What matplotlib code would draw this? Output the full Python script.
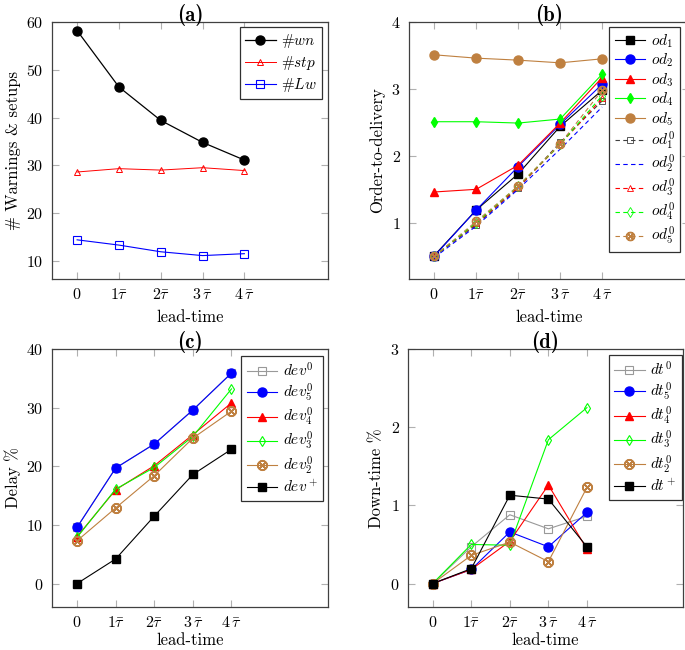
import matplotlib
matplotlib.use("Agg")
import matplotlib.pyplot as plt

plt.rcParams['font.family'] = ['cmr10', 'DejaVu Serif']
plt.rcParams['mathtext.fontset'] = 'cm'
plt.rcParams['axes.formatter.use_mathtext'] = True
plt.rcParams['axes.unicode_minus'] = False

# lead-time positions and labels
lead = [0, 1, 2, 3, 4]
lead_labels = ['$0$', r'$1\bar{\tau}$', r'$2\bar{\tau}$', r'$3\,\bar{\tau}$', r'$4\,\bar{\tau}$']

# (a) warnings & setups
wn = [58.2, 46.4, 39.4, 34.8, 31.1]
stp = [28.6, 29.3, 29.0, 29.5, 28.9]
lw = [14.4, 13.3, 11.9, 11.1, 11.5]

# (b) order-to-delivery
od1 = [0.51, 1.19, 1.73, 2.44, 2.98]
od2 = [0.50, 1.19, 1.84, 2.47, 3.07]
od3 = [1.46, 1.50, 1.86, 2.49, 3.17]
od4 = [2.51, 2.51, 2.49, 2.55, 3.22]
od5 = [3.51, 3.46, 3.43, 3.39, 3.45]
od1_0 = [0.50, 0.97, 1.52, 2.20, 2.82]
od2_0 = [0.48, 0.95, 1.50, 2.10, 2.73]
od3_0 = [0.50, 0.99, 1.53, 2.17, 2.86]
od4_0 = [0.50, 1.00, 1.55, 2.17, 2.90]
od5_0 = [0.50, 1.02, 1.55, 2.18, 2.98]

# (c) delay %
dev0 = [9.6, 19.7, 23.8, 29.6, 35.9]
dev5 = [9.6, 19.7, 23.8, 29.6, 35.9]
dev4 = [8.0, 16.0, 20.1, 25.4, 30.8]
dev3 = [7.9, 16.1, 19.8, 25.1, 33.2]
dev2 = [7.3, 12.9, 18.4, 24.8, 29.4]
devp = [0.0, 4.2, 11.5, 18.6, 22.9]

# (d) down-time %
dt0 = [0.0, 0.47, 0.88, 0.70, 0.86]
dt5 = [0.0, 0.18, 0.66, 0.47, 0.91]
dt4 = [0.0, 0.18, 0.54, 1.26, 0.44]
dt3 = [0.0, 0.50, 0.49, 1.84, 2.25]
dt2 = [0.0, 0.36, 0.53, 0.28, 1.23]
dtp = [0.0, 0.19, 1.13, 1.08, 0.47]

BROWN = (0.75, 0.5, 0.25)
GRAY = (0.6, 0.6, 0.6)
OTIMES = r'$\otimes$'

W, H = 685, 650
fig = plt.figure(figsize=(W / 100, H / 100), dpi=100)


def box(l, t, r, b):
    return [l / W, 1 - b / H, (r - l) / W, (b - t) / H]


def style(ax, title, ylabel, xpad=5):
    ax.set_xticks(lead)
    ax.set_xticklabels(lead_labels, fontsize=11.5)
    ax.tick_params(direction='in', length=5, width=0.8, color='#b0b0b0',
                   top=True, right=True, labelsize=11.5, pad=6)
    for s in ax.spines.values():
        s.set_linewidth(0.9)
        s.set_color('#404040')
    ax.set_title(title, family='cmb10', fontsize=15, pad=1)
    ax.set_xlabel('lead-time', fontsize=12, labelpad=xpad)
    ax.set_ylabel(ylabel, fontsize=12, labelpad=4)


def legend(ax, r, t, spacing):
    leg = ax.legend(loc='upper right', bbox_to_anchor=(r / W, 1 - t / H),
                    bbox_transform=fig.transFigure, borderaxespad=0,
                    fancybox=False, framealpha=1, edgecolor='#303030',
                    fontsize=11, handlelength=2.0, handletextpad=0.35,
                    borderpad=0.35, labelspacing=spacing)
    leg.get_frame().set_linewidth(0.9)
    return leg


# ---- (a)
ax = fig.add_axes(box(52, 22, 328, 279))
ax.plot(lead, wn, '-o', color='black', lw=0.9, ms=6.5, label='#$wn$')
ax.plot(lead, stp, '-^', color='red', lw=0.7, ms=5, mfc='none', mew=0.7, label='#$stp$')
ax.plot(lead, lw, '-s', color='blue', lw=0.8, ms=5.5, mfc='none', mew=0.8, label='#$Lw$')
ax.set_xlim(-0.6, 6.0)
ax.set_ylim(6.2, 60)
ax.set_yticks([10, 20, 30, 40, 50, 60])
ax.set_yticklabels(['$%d$' % v for v in [10, 20, 30, 40, 50, 60]])
style(ax, '(a)', '# Warnings & setups')
legend(ax, 322, 27, 0.25)

# ---- (b)
ax = fig.add_axes(box(409, 22, 689, 279))
ax.plot(lead, od1, '-s', color='black', lw=0.8, ms=6, label=r'$od_1$')
ax.plot(lead, od2, '-o', color='blue', lw=0.8, ms=6.5, label=r'$od_2$')
ax.plot(lead, od3, '-^', color='red', lw=0.8, ms=5.5, label=r'$od_3$')
ax.plot(lead, od4, '-d', color=(0, 1, 0), lw=0.8, ms=5.5, label=r'$od_4$')
ax.plot(lead, od5, '-o', color=BROWN, lw=0.8, ms=6.5, label=r'$od_5$')
dash = (0, (4, 3))
ax.plot(lead, od1_0, ls=dash, marker='s', color='#404040', lw=0.8, ms=5, mfc='none', mew=0.6, label=r'$od^0_1$')
ax.plot(lead, od2_0, ls=dash, color='blue', lw=0.8, label=r'$od^0_2$')
ax.plot(lead, od3_0, ls=dash, marker='^', color='red', lw=0.8, ms=5, mfc='none', mew=0.6, label=r'$od^0_3$')
ax.plot(lead, od4_0, ls=dash, marker='d', color=(0, 1, 0), lw=0.8, ms=5, mfc='none', mew=0.6, label=r'$od^0_4$')
ax.plot(lead, od5_0, ls=dash, marker=OTIMES, color=BROWN, lw=0.8, ms=6, label=r'$od^0_5$')
ax.set_xlim(-0.6, 6.07)
ax.set_ylim(0.16, 4)
ax.set_yticks([1, 2, 3, 4])
ax.set_yticklabels(['$1$', '$2$', '$3$', '$4$'])
style(ax, '(b)', 'Order-to-delivery')
legend(ax, 680, 27, 0.12)

# ---- (c)
ax = fig.add_axes(box(52, 349, 328, 607))
ax.plot(lead, dev0, '-s', color=GRAY, lw=0.8, ms=5.5, mfc='none', mew=0.8, label=r'$dev^0$')
ax.plot(lead, dev5, '-o', color='blue', lw=0.8, ms=6.5, label=r'$dev^0_5$')
ax.plot(lead, dev4, '-^', color='red', lw=0.8, ms=5.5, label=r'$dev^0_4$')
ax.plot(lead, dev3, '-d', color=(0, 1, 0), lw=0.8, ms=5, mfc='none', mew=0.8, label=r'$dev^0_3$')
ax.plot(lead, dev2, '-', marker=OTIMES, color=BROWN, lw=0.8, ms=7, label=r'$dev^0_2$')
ax.plot(lead, devp, '-s', color='black', lw=0.8, ms=6, label=r'$dev^+$')
ax.set_xlim(-0.65, 6.5)
ax.set_ylim(-4, 40)
ax.set_yticks([0, 10, 20, 30, 40])
ax.set_yticklabels(['$%d$' % v for v in [0, 10, 20, 30, 40]])
style(ax, '(c)', 'Delay %', xpad=1.5)
legend(ax, 323, 356, 0.15)

# ---- (d)
ax = fig.add_axes(box(408, 349, 683, 607))
ax.plot(lead, dt0, '-s', color=GRAY, lw=0.8, ms=5.5, mfc='none', mew=0.8, label=r'$dt^0$')
ax.plot(lead, dt5, '-o', color='blue', lw=0.8, ms=6.5, label=r'$dt^0_5$')
ax.plot(lead, dt4, '-^', color='red', lw=0.8, ms=5.5, label=r'$dt^0_4$')
ax.plot(lead, dt3, '-d', color=(0, 1, 0), lw=0.8, ms=5, mfc='none', mew=0.8, label=r'$dt^0_3$')
ax.plot(lead, dt2, '-', marker=OTIMES, color=BROWN, lw=0.8, ms=7, label=r'$dt^0_2$')
ax.plot(lead, dtp, '-s', color='black', lw=0.8, ms=6, label=r'$dt^+$')
ax.set_xlim(-0.64, 6.49)
ax.set_ylim(-0.3, 3)
ax.set_yticks([0, 1, 2, 3])
ax.set_yticklabels(['$0$', '$1$', '$2$', '$3$'])
style(ax, '(d)', 'Down-time %', xpad=1.5)
legend(ax, 682, 355, 0.15)

fig.savefig('out.png', dpi=100)
